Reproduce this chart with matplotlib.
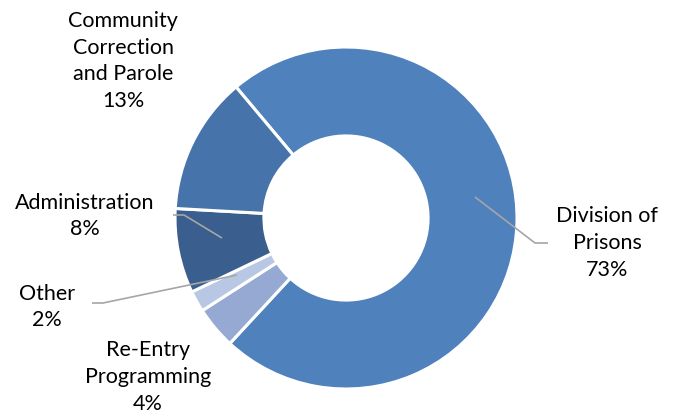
import matplotlib
matplotlib.use("Agg")
import matplotlib.pyplot as plt

categories = ["Division of\nPrisons", "Re-Entry\nProgramming", "Other", "Administration",
              "Community\nCorrection\nand Parole"]
values = [73, 4, 2, 8, 13]
colors = ["#4F81BD", "#95A9D2", "#B8C7E3", "#3A5F8E", "#4674AA"]
explode = [0, 0.025, 0.025, 0, 0]

W, H = 677, 416
fig = plt.figure(figsize=(W / 100, H / 100), dpi=100)
ax = fig.add_axes([0, 0, 1, 1])
ax.set_xlim(0, W)
ax.set_ylim(0, H)
ax.set_aspect("equal")
ax.axis("off")

def Y(y):
    return H - y

cx, cy, R = 346, Y(218), 171
ax.pie(values, colors=colors, startangle=130, counterclock=False, center=(cx, cy),
       radius=R, explode=explode,
       wedgeprops=dict(width=R * 0.52, edgecolor="white", linewidth=2.2))
ax.set_xlim(0, W)
ax.set_ylim(0, H)

font = dict(family=["Lato", "DejaVu Sans"], fontsize=15.5, color="black",
            ha="center", va="center", linespacing=1.42)
labels = [f"{c}\n{v}%" for c, v in zip(categories, values)]
label_pos = [(607, 243), (148, 377), (47, 307), (85, 216), (123, 61)]
for lab, (x, y) in zip(labels, label_pos):
    ax.text(x, Y(y), lab, **font)

leaders = [
    [(548, 243), (535, 243), (475, 197)],
    [(173, 215), (184, 215), (222, 238)],
    [(92, 303), (103, 303), (237, 275)],
]
for pts in leaders:
    ax.plot([p[0] for p in pts], [Y(p[1]) for p in pts], color="#A6A6A6", lw=1.2,
            solid_capstyle="butt")

fig.savefig("out.png", dpi=100)
